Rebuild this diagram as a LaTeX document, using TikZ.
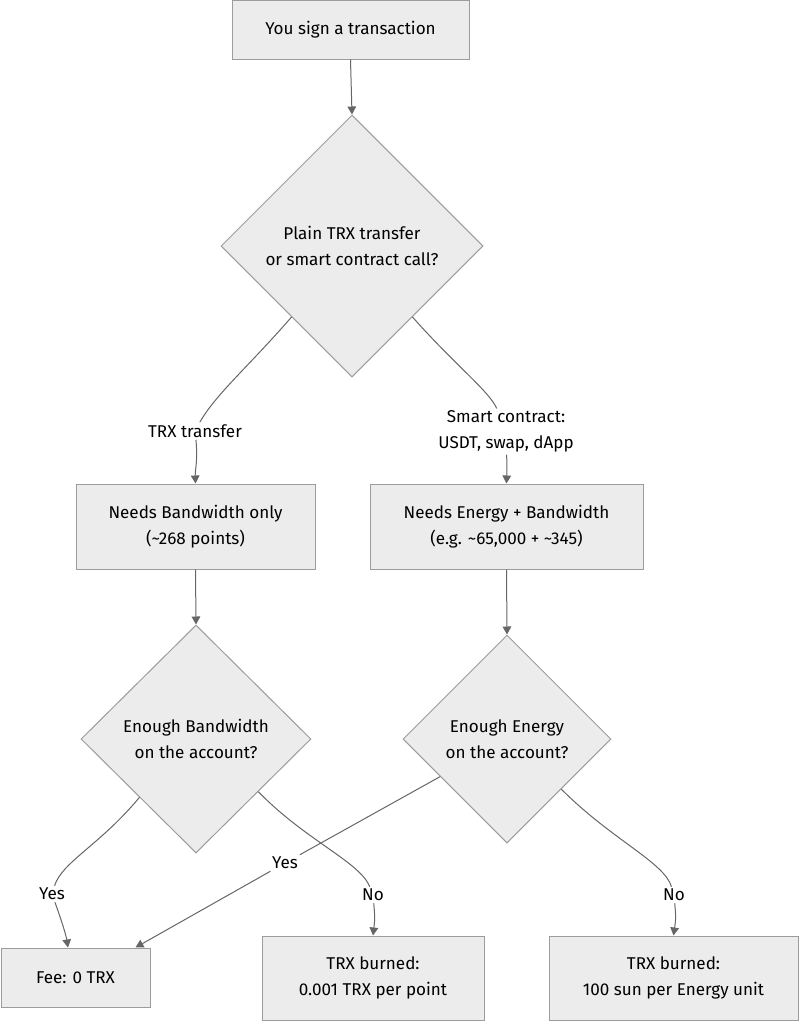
\documentclass[tikz,border=0pt]{standalone}
\usepackage{fontspec}
\setmainfont{Fira Sans}
\usetikzlibrary{shapes.geometric,arrows.meta,calc}
\definecolor{nodefill}{HTML}{ECECEC}
\definecolor{nodeline}{HTML}{9C9C9C}
\definecolor{edgeline}{HTML}{666666}
\begin{document}
\begin{tikzpicture}[x=0.75pt,y=-0.75pt,
  every node/.style={font=\fontsize{12.8}{19.5}\selectfont, text=black},
  box/.style={draw=nodeline, fill=nodefill, line width=0.75pt, rectangle, align=center, inner sep=0pt},
  decision/.style={draw=nodeline, fill=nodefill, line width=0.75pt, diamond, aspect=1, align=center, inner sep=0pt},
  edge/.style={draw=edgeline, line width=0.75pt},
  arr/.style={edge, -{Triangle[length=6pt,width=6.5pt]}},
  lbl/.style={fill=white, inner sep=1.5pt, align=center}
]
\useasboundingbox (0,0) rectangle (800,1021);

% nodes
\node[box, minimum width=237*0.75pt, minimum height=59*0.75pt] (top) at (350.5,29.5) {You sign a transaction};
\node[decision, minimum width=262*0.75pt, minimum height=262*0.75pt] (d1) at (352,246) {Plain TRX transfer\\or smart contract call?};
\node[box, minimum width=239*0.75pt, minimum height=85*0.75pt] (b1) at (195.5,526.5) {Needs Bandwidth only\\(\textasciitilde268 points)};
\node[box, minimum width=273*0.75pt, minimum height=85*0.75pt] (b2) at (506.5,526.5) {Needs Energy + Bandwidth\\(e.g. \textasciitilde65,000 + \textasciitilde345)};
\node[decision, minimum width=230*0.75pt, minimum height=228*0.75pt] (d2) at (196,739) {Enough Bandwidth\\on the account?};
\node[decision, minimum width=208*0.75pt, minimum height=208*0.75pt] (d3) at (507,739) {Enough Energy\\on the account?};
\node[box, minimum width=149*0.75pt, minimum height=59*0.75pt] (fee) at (75.5,977.5) {Fee: 0 TRX};
\node[box, minimum width=222*0.75pt, minimum height=84*0.75pt] (tb1) at (373,978) {TRX burned:\\0.001 TRX per point};
\node[box, minimum width=249*0.75pt, minimum height=84*0.75pt] (tb2) at (673.5,978) {TRX burned:\\100 sun per Energy unit};

% edge labels
\node[lbl] (l1) at (195,431) {TRX transfer};
\node[lbl] (l2) at (506,431.5) {Smart contract:\\USDT, swap, dApp};
\node[lbl] (l3) at (52,894) {Yes};
\node[lbl] (l4) at (373,895) {No};
\node[lbl] (l5) at (285,863) {Yes};
\node[lbl] (l6) at (674,895) {No};

% connector end points
\coordinate (s1) at ($(d1.south)!0.46!(d1.west)$);
\coordinate (s2) at ($(d1.south)!0.46!(d1.east)$);
\coordinate (s3) at ($(d2.south)!0.49!(d2.west)$);
\coordinate (s4) at ($(d2.south)!0.54!(d2.east)$);
\coordinate (s5) at ($(d3.south)!0.64!(d3.west)$);
\coordinate (s6) at ($(d3.south)!0.52!(d3.east)$);
\coordinate (feeA) at ($(fee.north west)!0.45!(fee.north east)$);
\coordinate (feeB) at ($(fee.north west)!0.9!(fee.north east)$);

% connectors
\draw[arr] (top.south) -- (d1.north);
\draw[edge] (s1) .. controls (250,365) and (215,395) .. (l1);
\draw[arr] (l1) .. controls (198,460) and (195,470) .. (b1.north);
\draw[edge] (s2) .. controls (455,365) and (490,392) .. (l2);
\draw[arr] (l2) .. controls (507,468) .. (b2.north);
\draw[arr] (b1.south) -- (d2.north);
\draw[arr] (b2.south) -- (d3.north);
\draw[edge] (s3) .. controls (100,845) and (62,862) .. (l3);
\draw[arr] (l3) .. controls (62,922) and (66,935) .. (feeA);
\draw[edge] (s4) .. controls (305,840) and (360,862) .. (l4);
\draw[arr] (l4) .. controls (375,918) .. (tb1.north);
\draw[edge] (s5) -- (l5);
\draw[arr] (l5) -- (feeB);
\draw[edge] (s6) .. controls (612,840) and (664,862) .. (l6);
\draw[arr] (l6) .. controls (676,918) .. (tb2.north);
\end{tikzpicture}
\end{document}
